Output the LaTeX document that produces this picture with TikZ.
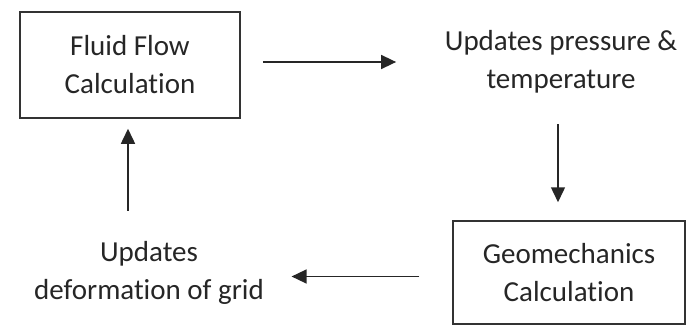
\documentclass[tikz,border=0pt]{standalone}
\usepackage{fontspec}
\setmainfont{Carlito}[Ligatures={NoCommon}]
\usetikzlibrary{arrows.meta}

\begin{document}
\begin{tikzpicture}[x=1pt,y=-1pt,-{Triangle[length=15pt,width=14pt]},line width=1.5pt,draw=black!85]
        \tikzstyle{calc}=[rectangle,draw=black!80,line width=1.5pt,inner sep=0pt,align=center,
            font=\fontsize{29pt}{38pt}\selectfont,text=black!85]
        \tikzstyle{update}=[inner sep=0pt,align=center,font=\fontsize{29pt}{38pt}\selectfont,text=black!85]

        \useasboundingbox (0,0) rectangle (687,326);

        % the two calculation boxes
        \node[calc,minimum width=220pt,minimum height=106pt] (FF) at (130,65) {Fluid Flow\\Calculation};
        \node[calc,minimum width=232pt,minimum height=103pt] (GM) at (569,272.5) {Geomechanics\\Calculation};

        % the two update texts
        \node[update] (PT) at (561,62) {Updates pressure \&\\temperature};
        \node[update] (DG) at (149,273) {Updates\\deformation of grid};

        % the loop
        \draw[shorten <=22pt,shorten >=48pt] (FF.east |- PT.west) -- (PT.west);
        \draw[shorten <=30pt,shorten >=18pt] ([xshift=-3pt]PT.south) -- ([xshift=-3pt]PT.south |- GM.north);
        \draw[shorten <=33pt,shorten >=27pt] ([yshift=-4pt]GM.west) -- ([yshift=-4pt]GM.west -| DG.east);
        \draw[shorten <=30pt,shorten >=10pt] ([xshift=-2pt]FF.south |- DG.north) -- ([xshift=-2pt]FF.south);
    \end{tikzpicture}
\end{document}
